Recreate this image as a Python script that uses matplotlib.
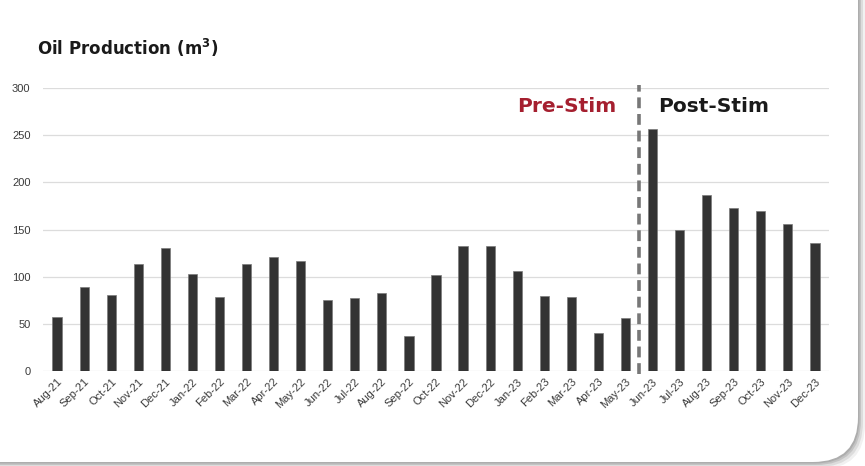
import numpy as np
import matplotlib.pyplot as plt
from matplotlib.patches import FancyBboxPatch

# Producción mensual de petróleo, antes y después de la estimulación
months = ['Aug-21', 'Sep-21', 'Oct-21', 'Nov-21', 'Dec-21', 'Jan-22', 'Feb-22',
          'Mar-22', 'Apr-22', 'May-22', 'Jun-22', 'Jul-22', 'Aug-22', 'Sep-22',
          'Oct-22', 'Nov-22', 'Dec-22', 'Jan-23', 'Feb-23', 'Mar-23', 'Apr-23',
          'May-23', 'Jun-23', 'Jul-23', 'Aug-23', 'Sep-23', 'Oct-23', 'Nov-23',
          'Dec-23']
oil = [57, 89, 81, 113, 130, 103, 78, 113, 121, 117, 75, 77, 83, 37,
       102, 132, 132, 106, 79, 78, 40, 56, 257, 150, 187, 173, 170, 156, 136]
y_ticks = [0, 50, 100, 150, 200, 250, 300]
stim_split = 21.5  # entre May-23 y Jun-23

W, H = 865, 466
fig = plt.figure(figsize=(W / 100, H / 100), dpi=100)
fig.patch.set_facecolor('white')

# Tarjeta de fondo con sombra (coordenadas en píxeles)
bg = fig.add_axes([0, 0, 1, 1], zorder=0)
bg.set_xlim(0, W)
bg.set_ylim(0, H)
bg.axis('off')
for off, a in [(7, 0.12), (5, 0.2), (3, 0.3), (1.5, 0.4)]:
    bg.add_patch(FancyBboxPatch((-60 + off, 4 - off), 60 + 858, 520,
                                boxstyle='round,pad=0,rounding_size=45',
                                fc='#8c8c8c', ec='none', alpha=a))
bg.add_patch(FancyBboxPatch((-60, 4), 60 + 858, 520,
                            boxstyle='round,pad=0,rounding_size=45',
                            fc='white', ec='none'))

ax = fig.add_axes([43 / W, 95 / H, 786 / W, 283 / H], zorder=1)
ax.patch.set_alpha(0)

x = np.arange(len(months))
ax.bar(x, oil, width=0.34, color='#333333', edgecolor='#7a7a7a',
       linewidth=0.5, zorder=3)

ax.set_xlim(-0.52, len(months) - 0.48)
ax.set_ylim(0, 300)
ax.set_yticks(y_ticks)
ax.grid(axis='y', color='#dcdcdc', linewidth=0.9, zorder=0)
for s in ax.spines.values():
    s.set_visible(False)
ax.tick_params(axis='both', length=0, colors='#3a3a3a', labelsize=8)
ax.tick_params(axis='y', pad=9)
ax.tick_params(axis='x', pad=4)
ax.set_xticks(x)
ax.set_xticklabels(months, rotation=45, ha='right', rotation_mode='anchor')
for lbl in ax.get_xticklabels() + ax.get_yticklabels():
    lbl.set_fontfamily('Liberation Sans')

# Línea de estimulación
ax.axvline(stim_split, ymin=-0.01, ymax=1.01, color='#777777', lw=2.6,
           ls=(0, (3, 1.6)), clip_on=False, zorder=4)

ax.text(stim_split - 0.85, 280, 'Pre-Stim', color='#a51f2f', fontsize=14.5,
        fontweight='bold', fontfamily='DejaVu Sans', ha='right', va='center')
ax.text(stim_split + 0.72, 280, 'Post-Stim', color='#1a1a1a', fontsize=14.5,
        fontweight='bold', fontfamily='DejaVu Sans', ha='left', va='center')

fig.text(37 / W, 1 - 48 / H, 'Oil Production (m$^\\mathbf{3}$)', fontsize=12,
         fontweight='bold', fontfamily='DejaVu Sans', color='#1a1a1a',
         ha='left', va='center')

fig.savefig('out.png', dpi=100)
